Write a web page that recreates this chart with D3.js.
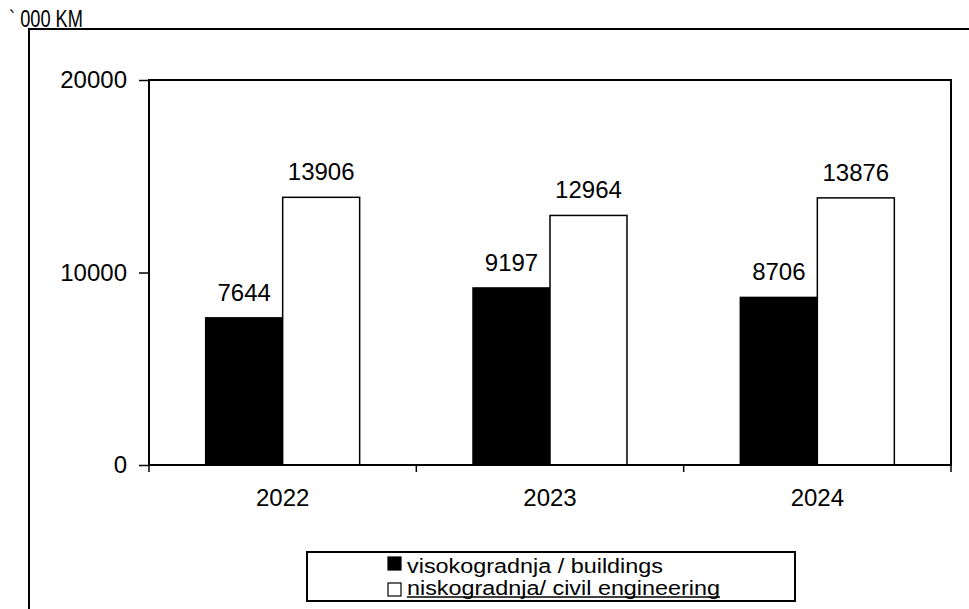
<!DOCTYPE html>
<html>
<head>
<meta charset="utf-8">
<script src="https://cdn.jsdelivr.net/npm/d3@7"></script>
<style>
  html, body { margin: 0; padding: 0; background: #fff; }
  svg { display: block; font-family: "Liberation Sans", Arial, sans-serif; }
</style>
</head>
<body>
<div id="chart"></div>
<script>
const years = ['2022', '2023', '2024'];
const seriesNames = ['visokogradnja / buildings', 'niskogradnja/ civil engineering'];
const buildings = [7644, 9197, 8706];
const civil = [13906, 12964, 13876];
const yTicks = [0, 10000, 20000];
const unitLabel = '` 000 KM';

const width = 969, height = 609;
const plot = { left: 149, top: 80, right: 951, bottom: 465 };

const svg = d3.select('#chart').append('svg')
    .attr('width', width)
    .attr('height', height);

// outer chart frame, runs off the right and bottom edges
svg.append('rect')
    .attr('x', 29).attr('y', 29)
    .attr('width', width + 20).attr('height', height + 20)
    .attr('fill', 'none').attr('stroke', '#000').attr('stroke-width', 2);

// condensed unit label
svg.append('text')
    .attr('transform', 'translate(9,27) scale(0.76,1)')
    .attr('font-size', 24)
    .text(unitLabel);

const x0 = d3.scaleBand()
    .domain(years)
    .range([plot.left, plot.right])
    .paddingInner(0.424)
    .paddingOuter(0.212);

const x1 = d3.scaleBand()
    .domain([0, 1])
    .range([0, x0.bandwidth()]);

const y = d3.scaleLinear()
    .domain([0, 20000])
    .range([plot.bottom, plot.top]);

const rows = years.map((yr, i) => ({ year: yr, values: [buildings[i], civil[i]] }));
const fills = ['#000', '#fff'];

const groups = svg.append('g').selectAll('g')
    .data(rows)
    .enter().append('g')
    .attr('transform', d => `translate(${x0(d.year)},0)`);

groups.selectAll('rect')
    .data(d => d.values.map((v, k) => ({ v, k })))
    .enter().append('rect')
    .attr('x', d => x1(d.k))
    .attr('y', d => y(d.v))
    .attr('width', x1.bandwidth())
    .attr('height', d => y(0) - y(d.v))
    .attr('fill', d => fills[d.k])
    .attr('stroke', '#000')
    .attr('stroke-width', 1.5);

groups.selectAll('text')
    .data(d => d.values.map((v, k) => ({ v, k })))
    .enter().append('text')
    .attr('x', d => x1(d.k) + x1.bandwidth() / 2)
    .attr('y', d => y(d.v) - 17)
    .attr('text-anchor', 'middle')
    .attr('font-size', 24)
    .text(d => d.v);

// plot area border
svg.append('rect')
    .attr('x', plot.left).attr('y', plot.top)
    .attr('width', plot.right - plot.left)
    .attr('height', plot.bottom - plot.top)
    .attr('fill', 'none').attr('stroke', '#000').attr('stroke-width', 2);

// y axis
const yAxis = svg.append('g')
    .attr('transform', `translate(${plot.left},0)`)
    .call(d3.axisLeft(y).tickValues(yTicks).tickSize(10).tickPadding(12).tickFormat(d3.format('d')));
yAxis.select('.domain').remove();
yAxis.selectAll('line').attr('stroke', '#000').attr('stroke-width', 1.5);
yAxis.selectAll('text').attr('font-size', 24).attr('fill', '#000')
    .attr('font-family', '"Liberation Sans", Arial, sans-serif');

// x axis: labels centred, ticks on category boundaries
const xAxis = svg.append('g')
    .attr('transform', `translate(0,${plot.bottom})`)
    .call(d3.axisBottom(x0).tickSize(0).tickPadding(24));
xAxis.select('.domain').remove();
xAxis.selectAll('text').attr('font-size', 24).attr('fill', '#000')
    .attr('font-family', '"Liberation Sans", Arial, sans-serif');

const bounds = d3.range(years.length + 1).map(i => plot.left + i * x0.step());
svg.append('g').selectAll('line')
    .data(bounds)
    .enter().append('line')
    .attr('x1', d => d).attr('x2', d => d)
    .attr('y1', plot.bottom).attr('y2', plot.bottom + 7)
    .attr('stroke', '#000').attr('stroke-width', 1.5);

// legend
const legend = svg.append('g');
legend.append('rect')
    .attr('x', 307).attr('y', 552)
    .attr('width', 488).attr('height', 49)
    .attr('fill', '#fff').attr('stroke', '#000').attr('stroke-width', 2);

const legendWidths = [256, 313];

const items = legend.selectAll('g.item')
    .data(seriesNames)
    .enter().append('g')
    .attr('class', 'item')
    .attr('transform', (d, i) => `translate(388,${557 + i * 24})`);

items.append('rect')
    .attr('y', (d, i) => i * 2)
    .attr('width', 13).attr('height', 13)
    .attr('fill', (d, i) => fills[i])
    .attr('stroke', '#000').attr('stroke-width', 1.2);

items.append('text')
    .attr('x', 19).attr('y', (d, i) => 16 - i * 2)
    .attr('font-size', 19.5)
    .attr('textLength', (d, i) => legendWidths[i])
    .attr('lengthAdjust', 'spacingAndGlyphs')
    .text(d => d);

// second entry is underlined in the original
items.filter((d, i) => i === 1).append('line')
    .attr('x1', 19).attr('x2', 19 + legendWidths[1])
    .attr('y1', 16).attr('y2', 16)
    .attr('stroke', '#000').attr('stroke-width', 1.5);
</script>
</body>
</html>
